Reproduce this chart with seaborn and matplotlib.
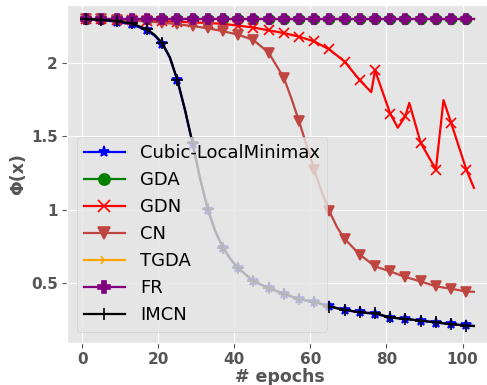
import numpy as np
import matplotlib
matplotlib.use("Agg")
import matplotlib.pyplot as plt
from matplotlib.lines import Line2D
import seaborn as sns

# Training objective Φ(x) per epoch for each method
cubic_epochs = [1, 5, 9, 13, 17, 19, 21, 23, 25, 27, 29, 31, 33, 35, 37, 39, 41, 45, 49,
                53, 57, 61, 65, 69, 73, 77, 81, 85, 89, 93, 97, 101, 103]
cubic_phi = [2.302, 2.297, 2.284, 2.266, 2.226, 2.190, 2.135, 2.040, 1.884, 1.680, 1.450,
             1.210, 1.000, 0.850, 0.738, 0.660, 0.600, 0.510, 0.464, 0.423, 0.387, 0.370,
             0.338, 0.314, 0.297, 0.288, 0.262, 0.253, 0.240, 0.228, 0.217, 0.208, 0.205]

gda_epochs = [1, 5, 9, 13, 17, 21, 25, 29, 33, 37, 41, 45, 49, 53, 57, 61, 65, 69, 73, 77,
              81, 85, 89, 93, 97, 101, 103]
gda_phi = [2.3026] * len(gda_epochs)

gdn_epochs = [1, 5, 9, 13, 17, 21, 25, 29, 33, 37, 41, 45, 49, 53, 57, 61, 65, 69, 73, 76,
              77, 81, 83, 85, 86, 89, 93, 95, 97, 101, 103]
gdn_phi = [2.302, 2.300, 2.298, 2.296, 2.293, 2.289, 2.285, 2.280, 2.276, 2.270, 2.258,
           2.245, 2.226, 2.207, 2.183, 2.150, 2.095, 2.012, 1.884, 1.803, 1.952, 1.655,
           1.560, 1.640, 1.730, 1.457, 1.274, 1.749, 1.594, 1.274, 1.149]

cn_epochs = [1, 5, 9, 13, 17, 21, 25, 29, 33, 37, 41, 45, 49, 53, 55, 57, 59, 61, 63, 65,
             67, 69, 73, 77, 81, 85, 89, 93, 97, 101, 103]
cn_phi = [2.302, 2.300, 2.297, 2.293, 2.287, 2.278, 2.268, 2.255, 2.240, 2.220, 2.196,
          2.160, 2.073, 1.902, 1.760, 1.605, 1.440, 1.274, 1.120, 0.988, 0.880, 0.800,
          0.692, 0.612, 0.577, 0.539, 0.509, 0.475, 0.459, 0.440, 0.438]

tgda_epochs = list(gda_epochs)
tgda_phi = [2.3026] * len(tgda_epochs)

fr_epochs = list(gda_epochs)
fr_phi = [2.3026] * len(fr_epochs)

imcn_epochs = list(cubic_epochs)
imcn_phi = [2.302, 2.298, 2.289, 2.273, 2.233, 2.195, 2.140, 2.045, 1.888, 1.685, 1.455,
            1.213, 1.003, 0.852, 0.740, 0.661, 0.601, 0.511, 0.463, 0.424, 0.388, 0.369,
            0.337, 0.315, 0.298, 0.291, 0.263, 0.252, 0.241, 0.229, 0.216, 0.207, 0.204]

labels = ["Cubic-LocalMinimax", "GDA", "GDN", "CN", "TGDA", "FR", "IMCN"]
colors = ["blue", "green", "red", "#BF4540", "orange", "purple", "black"]
markers = ["*", "o", "x", "v", "4", "P", "+"]
marker_sizes = [7, 7, 7, 7, 7, 7.5, 8]

x_ticks = [0, 20, 40, 60, 80, 100]
y_ticks = [0.5, 1.0, 1.5, 2.0]
y_tick_labels = ["0.5", "1", "1.5", "2"]

series = [
    (cubic_epochs, cubic_phi),
    (gda_epochs, gda_phi),
    (gdn_epochs, gdn_phi),
    (cn_epochs, cn_phi),
    (tgda_epochs, tgda_phi),
    (fr_epochs, fr_phi),
    (imcn_epochs, imcn_phi),
]

plt.style.use("ggplot")
plt.rcParams["font.family"] = ["DejaVu Sans"]

fig = plt.figure(figsize=(4.87, 3.85), dpi=100)
ax = fig.add_axes([66.7 / 487, (385 - 342.7) / 385, 426.6 / 487, 337.7 / 385])

handles = []
for (ep, vals), lab, col, mk, ms in zip(series, labels, colors, markers, marker_sizes):
    ep = np.asarray(ep)
    mark_idx = [i for i, e in enumerate(ep) if (e - 1) % 4 == 0]
    sns.lineplot(x=ep, y=vals, ax=ax, color=col, linewidth=1.6,
                 marker=mk, markevery=mark_idx, markersize=ms,
                 markeredgecolor=col, markerfacecolor=col, markeredgewidth=1.2,
                 estimator=None, sort=False)
    handles.append(Line2D([], [], color=col, linewidth=1.6, marker=mk,
                          markersize=ms + 1, markeredgecolor=col, markerfacecolor=col,
                          markeredgewidth=1.2, label=lab))

ax.set_xlim(-4.1, 108.1)
ax.set_ylim(0.09, 2.399)
ax.set_xticks(x_ticks)
ax.set_yticks(y_ticks)
ax.set_yticklabels(y_tick_labels)
ax.tick_params(axis="both", pad=3)
for t in ax.get_xticklabels() + ax.get_yticklabels():
    t.set_fontweight("bold")
    t.set_fontsize(11)
    t.set_color("#555555")

ax.set_xlabel("# epochs", fontsize=12.5, fontweight="bold", color="#555555", labelpad=1)
ax.set_ylabel("Φ(x)", fontsize=12.5, fontweight="bold", color="#555555", labelpad=3)

ax.legend(handles=handles, loc="lower left", bbox_to_anchor=(0.024, 0.033),
          borderaxespad=0, fontsize=13, labelspacing=0.5, handlelength=2.25,
          handletextpad=0.85, framealpha=0.8)

fig.savefig("out.png", dpi=100)
